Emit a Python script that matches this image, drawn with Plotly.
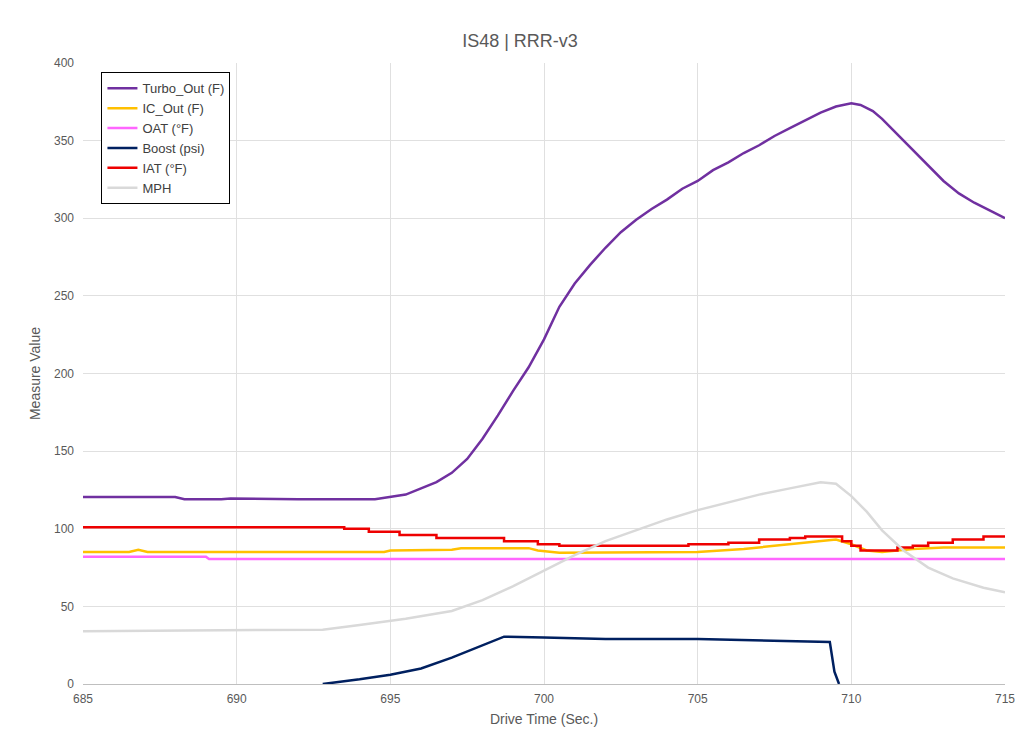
import plotly.graph_objects as go

turbo_t = [685, 688, 688.3, 689.5, 689.8, 692, 694.5, 695, 695.5, 696, 696.5, 697, 697.5, 698, 698.5, 699, 699.5, 700, 700.5, 701, 701.5, 702, 702.5, 703, 703.5, 704, 704.5, 705, 705.5, 706, 706.5, 707, 707.5, 708, 708.5, 709, 709.5, 710, 710.3, 710.7, 711, 711.5, 712, 712.5, 713, 713.5, 714, 714.5, 715]
turbo_v = [120.5, 120.5, 119, 119, 119.5, 119, 119, 120.5, 122, 126, 130, 136, 145, 158, 173, 189, 204, 222, 243, 258, 270, 281, 291, 299, 306, 312, 319, 324, 331, 336, 342, 347, 353, 358, 363, 368, 372, 374, 373, 369, 364, 354, 344, 334, 324, 316, 310, 305, 300]

ic_t = [685, 686.5, 686.8, 687.1, 694.8, 695, 697, 697.3, 699.5, 699.8, 700.5, 705, 706.5, 707.5, 708.5, 709.5, 710, 710.5, 711, 712, 713, 715]
ic_v = [85, 85, 86.5, 85, 85, 86, 86.5, 87.5, 87.5, 86, 84.5, 85, 87, 89, 91, 93, 90, 86, 85, 87, 88, 88]

oat_t = [685, 689, 689.1, 715]
oat_v = [82, 82, 80.5, 80.5]

iat_t = [685, 693.5, 694.3, 695.3, 696.5, 698.7, 699.8, 700.5, 704.7, 706, 707, 708, 708.5, 709.7, 710, 710.3, 710.6, 711.5, 712, 712.5, 713.3, 714.3, 715]
iat_v = [101, 100, 98, 96, 94, 92, 90, 89, 90, 91, 93, 94, 95, 92, 89, 86, 86, 88, 89, 91, 93, 95, 95]

mph_t = [685, 690, 692.8, 694, 695.5, 697, 698, 699, 700, 701, 702, 703, 704, 705, 706, 707, 708, 709, 709.5, 710, 710.5, 711, 711.7, 712.5, 713.3, 714.3, 715]
mph_v = [34, 34.5, 35, 38, 42, 47, 54, 63, 73, 83, 92, 99, 106, 112, 117, 122, 126, 130, 129, 121, 111, 99, 86, 75, 68, 62, 59]

boost_t = [692.8, 694, 695, 696, 697, 698, 698.7, 700, 702, 705, 707, 709, 709.3, 709.45, 709.6]
boost_v = [0, 3, 6, 10, 17, 25, 30.5, 30, 29, 29, 28, 27, 27, 8, 0]

series = [
    ("Turbo_Out (F)", turbo_t, turbo_v, "#7030A0", "linear"),
    ("IC_Out (F)", ic_t, ic_v, "#FFC000", "linear"),
    ("OAT (°F)", oat_t, oat_v, "#FF66FF", "linear"),
    ("Boost (psi)", boost_t, boost_v, "#002060", "linear"),
    ("IAT (°F)", iat_t, iat_v, "#EE0000", "hv"),
    ("MPH", mph_t, mph_v, "#D9D9D9", "linear"),
]

fig = go.Figure()
for name, t, v, c, shape in series:
    fig.add_trace(go.Scatter(x=t, y=v, name=name, mode="lines",
                             line=dict(color=c, width=2.5, shape=shape)))

fig.update_layout(
    width=1024, height=743,
    paper_bgcolor="white", plot_bgcolor="white",
    font=dict(family="Liberation Sans, Arial", size=12, color="#595959"),
    title=dict(text="IS48 | RRR-v3", x=0.5, y=0.965, font=dict(size=18, color="#595959")),
    margin=dict(l=75, r=27, t=55, b=67),
    legend=dict(x=0.02, y=0.985, xanchor="left", yanchor="top",
                bordercolor="black", borderwidth=1, bgcolor="white",
                tracegroupgap=4, font=dict(size=13, color="#404040")),
)
fig.update_xaxes(range=[685, 715], dtick=5, showgrid=True, gridcolor="#E0E0E0",
                 zeroline=False, automargin=False, ticklabelstandoff=4,
                 title=dict(text="Drive Time (Sec.)", standoff=8),
                 showline=True, linecolor="#BFBFBF")
fig.update_yaxes(range=[0, 400], dtick=50, showgrid=True, gridcolor="#E0E0E0",
                 zeroline=False, automargin=False, ticklabelstandoff=8,
                 title=dict(text="Measure Value", standoff=10))

fig.write_html("out.html")
